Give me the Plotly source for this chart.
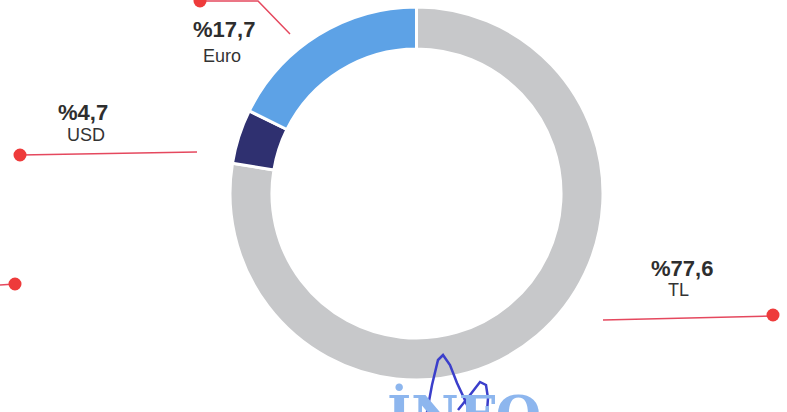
import plotly.graph_objects as go

W, H = 787, 412

labels = ["TL", "USD", "Euro"]
values = [77.6, 4.7, 17.7]
pct_text = ["%77,6", "%4,7", "%17,7"]
colors = ["#C7C8CA", "#2F3070", "#5DA2E6"]

def px(x):
    return x / W

def py(y):
    return 1 - y / H

cx, cy, r = 416.5, 193.5, 186.5

fig = go.Figure()
fig.add_trace(go.Pie(
    labels=labels,
    values=values,
    hole=0.775,
    sort=False,
    direction="clockwise",
    rotation=0,
    marker=dict(colors=colors, line=dict(color="white", width=3)),
    textinfo="none",
    hoverinfo="label+percent",
    showlegend=False,
    domain=dict(x=[px(cx - r), px(cx + r)], y=[py(cy + r), py(cy - r)]),
))

red_line = "#E5485E"
red_dot = "#EE3B3B"
shapes = []
# leader lines (pixel coords of decorations)
lines = [
    [(200, 1), (258, 1), (290, 34)],
    [(20, 155), (197, 152)],
    [(0, 285), (15, 284)],
    [(603, 320), (773, 316)],
]
for pts in lines:
    path = "M " + " L ".join(f"{px(x)},{py(y)}" for x, y in pts)
    shapes.append(dict(type="path", xref="paper", yref="paper", path=path,
                       line=dict(color=red_line, width=1.5)))
dots = [(200, 1), (20, 155), (15, 284), (773, 315)]
rd = 6.5
for x, y in dots:
    shapes.append(dict(type="circle", xref="paper", yref="paper",
                       x0=px(x - rd), x1=px(x + rd), y0=py(y + rd), y1=py(y - rd),
                       fillcolor=red_dot, line=dict(width=0)))

# pen scribble
scribbles = [
    [(427, 412), (432, 385), (438, 360), (443, 355), (450, 365), (457, 383), (464, 398), (470, 412)],
    [(458, 410), (470, 395), (480, 382), (486, 385), (488, 398), (487, 412)],
]
for pts in scribbles:
    path = "M " + " L ".join(f"{px(x)},{py(y)}" for x, y in pts)
    shapes.append(dict(type="path", xref="paper", yref="paper", path=path,
                       line=dict(color="#3B3FCB", width=2.5)))

annotations = []
label_pos = {
    "TL": ((682, 268), (678, 290)),
    "USD": ((83, 112), (86, 135)),
    "Euro": ((224, 30), (222, 56)),
}
for lab, pt in zip(labels, pct_text):
    (x1, y1), (x2, y2) = label_pos[lab]
    annotations.append(dict(x=px(x1), y=py(y1), xref="paper", yref="paper",
                            text=f"<b>{pt}</b>", showarrow=False,
                            font=dict(family="Liberation Sans, Arial", size=22, color="#2e2e2e"),
                            xanchor="center", yanchor="middle"))
    annotations.append(dict(x=px(x2), y=py(y2), xref="paper", yref="paper",
                            text=lab, showarrow=False,
                            font=dict(family="Liberation Sans, Arial", size=18, color="#333333"),
                            xanchor="center", yanchor="middle"))

annotations.append(dict(x=px(464), y=py(381), xref="paper", yref="paper",
                        text="<b>İNFO</b>", showarrow=False,
                        font=dict(family="DejaVu Serif, Liberation Serif", size=52, color="#8DB6EE"),
                        xanchor="center", yanchor="top"))

fig.update_layout(
    width=W, height=H,
    margin=dict(l=0, r=0, t=0, b=0),
    paper_bgcolor="white", plot_bgcolor="white",
    shapes=shapes, annotations=annotations,
)

fig.write_html("out.html", config={"displayModeBar": False},
               post_script="document.body.style.margin='0';document.body.style.overflow='hidden';")
